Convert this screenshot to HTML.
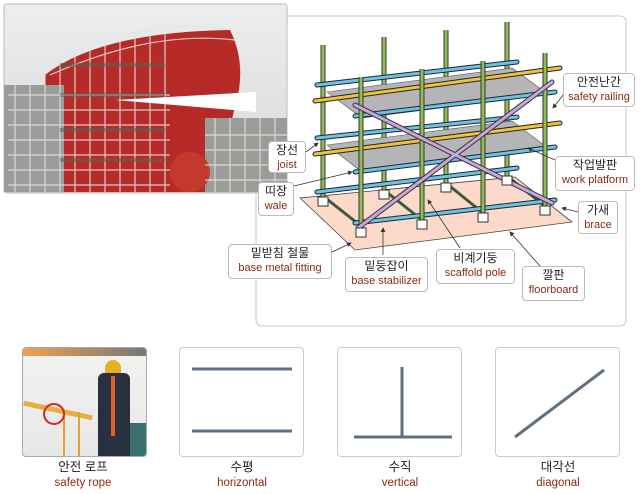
<!DOCTYPE html>
<html><head><meta charset="utf-8"><style>
body{margin:0;width:642px;height:494px;background:#fff;overflow:hidden;font-family:"Liberation Sans","Noto Sans CJK KR",sans-serif}
.lb{position:absolute;border:1px solid #bbb;border-radius:4px;background:#fff;text-align:center;font-size:12px;line-height:15px;color:#222;box-sizing:border-box;padding-top:1px}
.lb span{display:block;color:#8b2a10;font-size:11px}
.cap{position:absolute;width:126px;text-align:center;font-size:12.5px;line-height:16px;color:#222}
.cap span{display:block;color:#8b2a10;font-size:11.5px}
.bx{position:absolute;top:347px;width:125px;height:110px;border:1px solid #ccc;border-radius:4px;box-sizing:border-box;background:transparent}
</style></head><body>
<div class="bx" style="left:22px;overflow:hidden;border-color:#aaa;background:linear-gradient(#f3f2f1,#e6e8e8)">
<div style="position:absolute;left:0;top:0;width:123px;height:8px;background:linear-gradient(90deg,#f0a050,#777)"></div>
<div style="position:absolute;left:0;top:60px;width:70px;height:5px;background:#e6b040;transform:rotate(12deg)"></div>
<div style="position:absolute;left:40px;top:62px;width:2px;height:50px;background:#e6a030"></div>
<div style="position:absolute;left:55px;top:64px;width:2px;height:50px;background:#e6a030"></div>
<div style="position:absolute;left:80px;top:75px;width:45px;height:40px;background:#3a7070"></div>
<div style="position:absolute;left:82px;top:12px;width:16px;height:13px;background:#e8b020;border-radius:8px 8px 0 0"></div>
<div style="position:absolute;left:75px;top:25px;width:32px;height:85px;background:#283040;border-radius:6px 6px 0 0"></div>
<div style="position:absolute;left:88px;top:28px;width:4px;height:60px;background:#e06020"></div>
<div style="position:absolute;left:20px;top:55px;width:18px;height:18px;border:2px solid #d22;border-radius:50%"></div>
</div>
<svg width="642" height="494" style="position:absolute;left:0;top:0">
<defs>
<linearGradient id="sky" x1="0" y1="0" x2="0" y2="1"><stop offset="0" stop-color="#eceeef"/><stop offset="1" stop-color="#d5d7d8"/></linearGradient>
<marker id="ar" markerWidth="6" markerHeight="6" refX="5" refY="3" orient="auto"><path d="M0,0 L6,3 L0,6z" fill="#333"/></marker>
</defs>
<rect x="256" y="16" width="370" height="310" rx="6" fill="#fff" stroke="#c8c8c8"/>
<rect x="4" y="4" width="283" height="189" rx="3" fill="url(#sky)" stroke="#bbb"/>
<path d="M45,75 Q100,32 230,30 Q245,60 238,95 L228,135 L205,160 L210,192 L45,192z" fill="#b62a28"/>
<rect x="4" y="85" width="60" height="107" fill="#9a9c99"/>
<rect x="205" y="118" width="82" height="74" fill="#9a9c98"/>
<circle cx="190" cy="172" r="20" fill="#c33a2c"/>
<g stroke="#e4e4e4" stroke-width="1.2" opacity="0.85" fill="none">
<path d="M15,80V192M30,72V192M45,65V192M60,58V192M75,52V192M90,46V192M105,42V192M120,38V192M135,35V192M150,32V192M165,31V192M215,118V192M230,118V192M245,118V192M260,118V192M275,118V192"/>
<path d="M8,95H170M8,110H170M8,125H170M8,140H170M8,155H170M8,170H170M8,185H170M205,135H287M205,150H287M205,165H287M205,180H287M50,62Q150,15 235,30M50,75Q150,30 235,40"/>
</g>
<g stroke="#5a6452" stroke-width="4" opacity="0.55"><path d="M60,65H165M60,95H165M60,130H165M60,160H165"/></g>
<path d="M115,100 L256,92 L256,112z" fill="#fff"/>
<path d="M300,198 L355,250 L572,222 L515,177z" fill="#fcd9c8" stroke="#444" stroke-width="0.8"/>
<g stroke="#3d5a3a" stroke-width="3"><path d="M323,196L361,226M384,190L422,220M446,183L483,213M507,176L545,206"/></g>
<g stroke="#334" stroke-width="5"><path d="M323,45V197M384,37V190M446,30V183M507,22V176"/></g>
<g stroke="#8fbf4a" stroke-width="3"><path d="M323,45V197M384,37V190M446,30V183M507,22V176"/></g>
<path d="M327,92 L512,68 L548,94 L362,118z" fill="#b5b5b5" stroke="#555" stroke-width="0.6"/>
<path d="M327,145 L512,121 L548,148 L362,172z" fill="#b5b5b5" stroke="#555" stroke-width="0.6"/>
<g stroke="#223" stroke-width="5" stroke-linecap="round"><path d="M317,85L517,62M317,138L517,117M317,192L517,168"/></g>
<g stroke="#6cc3e0" stroke-width="3" stroke-linecap="round"><path d="M317,85L517,62M317,138L517,117M317,192L517,168"/></g>
<g stroke="#223" stroke-width="5" stroke-linecap="round"><path d="M315,101L560,68M315,154L560,123"/></g>
<g stroke="#f1c232" stroke-width="3" stroke-linecap="round"><path d="M315,101L560,68M315,154L560,123"/></g>
<g stroke="#223" stroke-width="5" stroke-linecap="round"><path d="M355,116L555,92M355,172L555,147M355,223L555,200"/></g>
<g stroke="#6cc3e0" stroke-width="3" stroke-linecap="round"><path d="M355,116L555,92M355,172L555,147M355,223L555,200"/></g>
<g stroke="#334" stroke-width="5"><path d="M361,77V228M422,69V220M483,61V213M545,53V206"/></g>
<g stroke="#8fbf4a" stroke-width="3"><path d="M361,77V228M422,69V220M483,61V213M545,53V206"/></g>
<g stroke="#334" stroke-width="5" stroke-linecap="round"><path d="M355,105L552,203M358,228L552,82"/></g>
<g stroke="#c9a6d4" stroke-width="3" stroke-linecap="round"><path d="M355,105L552,203M358,228L552,82"/></g>
<g fill="#fff" stroke="#333" stroke-width="1">
<rect x="318" y="197" width="10" height="9"/><rect x="379" y="190" width="10" height="9"/><rect x="441" y="183" width="10" height="9"/><rect x="502" y="176" width="10" height="9"/>
<rect x="356" y="228" width="10" height="9"/><rect x="417" y="220" width="10" height="9"/><rect x="478" y="213" width="10" height="9"/><rect x="540" y="206" width="10" height="9"/>
</g>
<g stroke="#333" stroke-width="0.8" fill="none" marker-end="url(#ar)">
<path d="M563,95L553,108"/><path d="M555,160L528,148"/><path d="M578,212L562,208"/><path d="M306,152L318,143"/><path d="M294,186L352,172"/>
<path d="M332,252L351,243"/><path d="M383,255L383,228"/><path d="M460,248L428,200"/><path d="M540,266L510,232"/>
</g>
<g stroke="#607080" stroke-width="3"><path d="M192,369H292M192,431H292M402,367V437M354,437H452M515,437L604,370"/></g>
</svg>
<div class="lb" style="left:563px;top:73px;width:72px;height:34px">안전난간<span>safety railing</span></div>
<div class="lb" style="left:555px;top:156px;width:80px;height:35px">작업발판<span>work platform</span></div>
<div class="lb" style="left:578px;top:201px;width:40px;height:33px">가새<span>brace</span></div>
<div class="lb" style="left:268px;top:141px;width:38px;height:32px">장선<span>joist</span></div>
<div class="lb" style="left:258px;top:182px;width:36px;height:34px">띠장<span>wale</span></div>
<div class="lb" style="left:228px;top:244px;width:104px;height:35px">밑받침 철물<span>base metal fitting</span></div>
<div class="lb" style="left:345px;top:257px;width:83px;height:35px">밑둥잡이<span>base stabilizer</span></div>
<div class="lb" style="left:436px;top:249px;width:79px;height:35px">비계기둥<span>scaffold pole</span></div>
<div class="lb" style="left:522px;top:266px;width:63px;height:35px">깔판<span>floorboard</span></div>
<div class="bx" style="left:179px"></div>
<div class="bx" style="left:337px"></div>
<div class="bx" style="left:495px"></div>
<div class="cap" style="left:20px;top:459px">안전 로프<span>safety rope</span></div>
<div class="cap" style="left:179px;top:459px">수평<span>horizontal</span></div>
<div class="cap" style="left:337px;top:459px">수직<span>vertical</span></div>
<div class="cap" style="left:495px;top:459px">대각선<span>diagonal</span></div>
</body></html>
